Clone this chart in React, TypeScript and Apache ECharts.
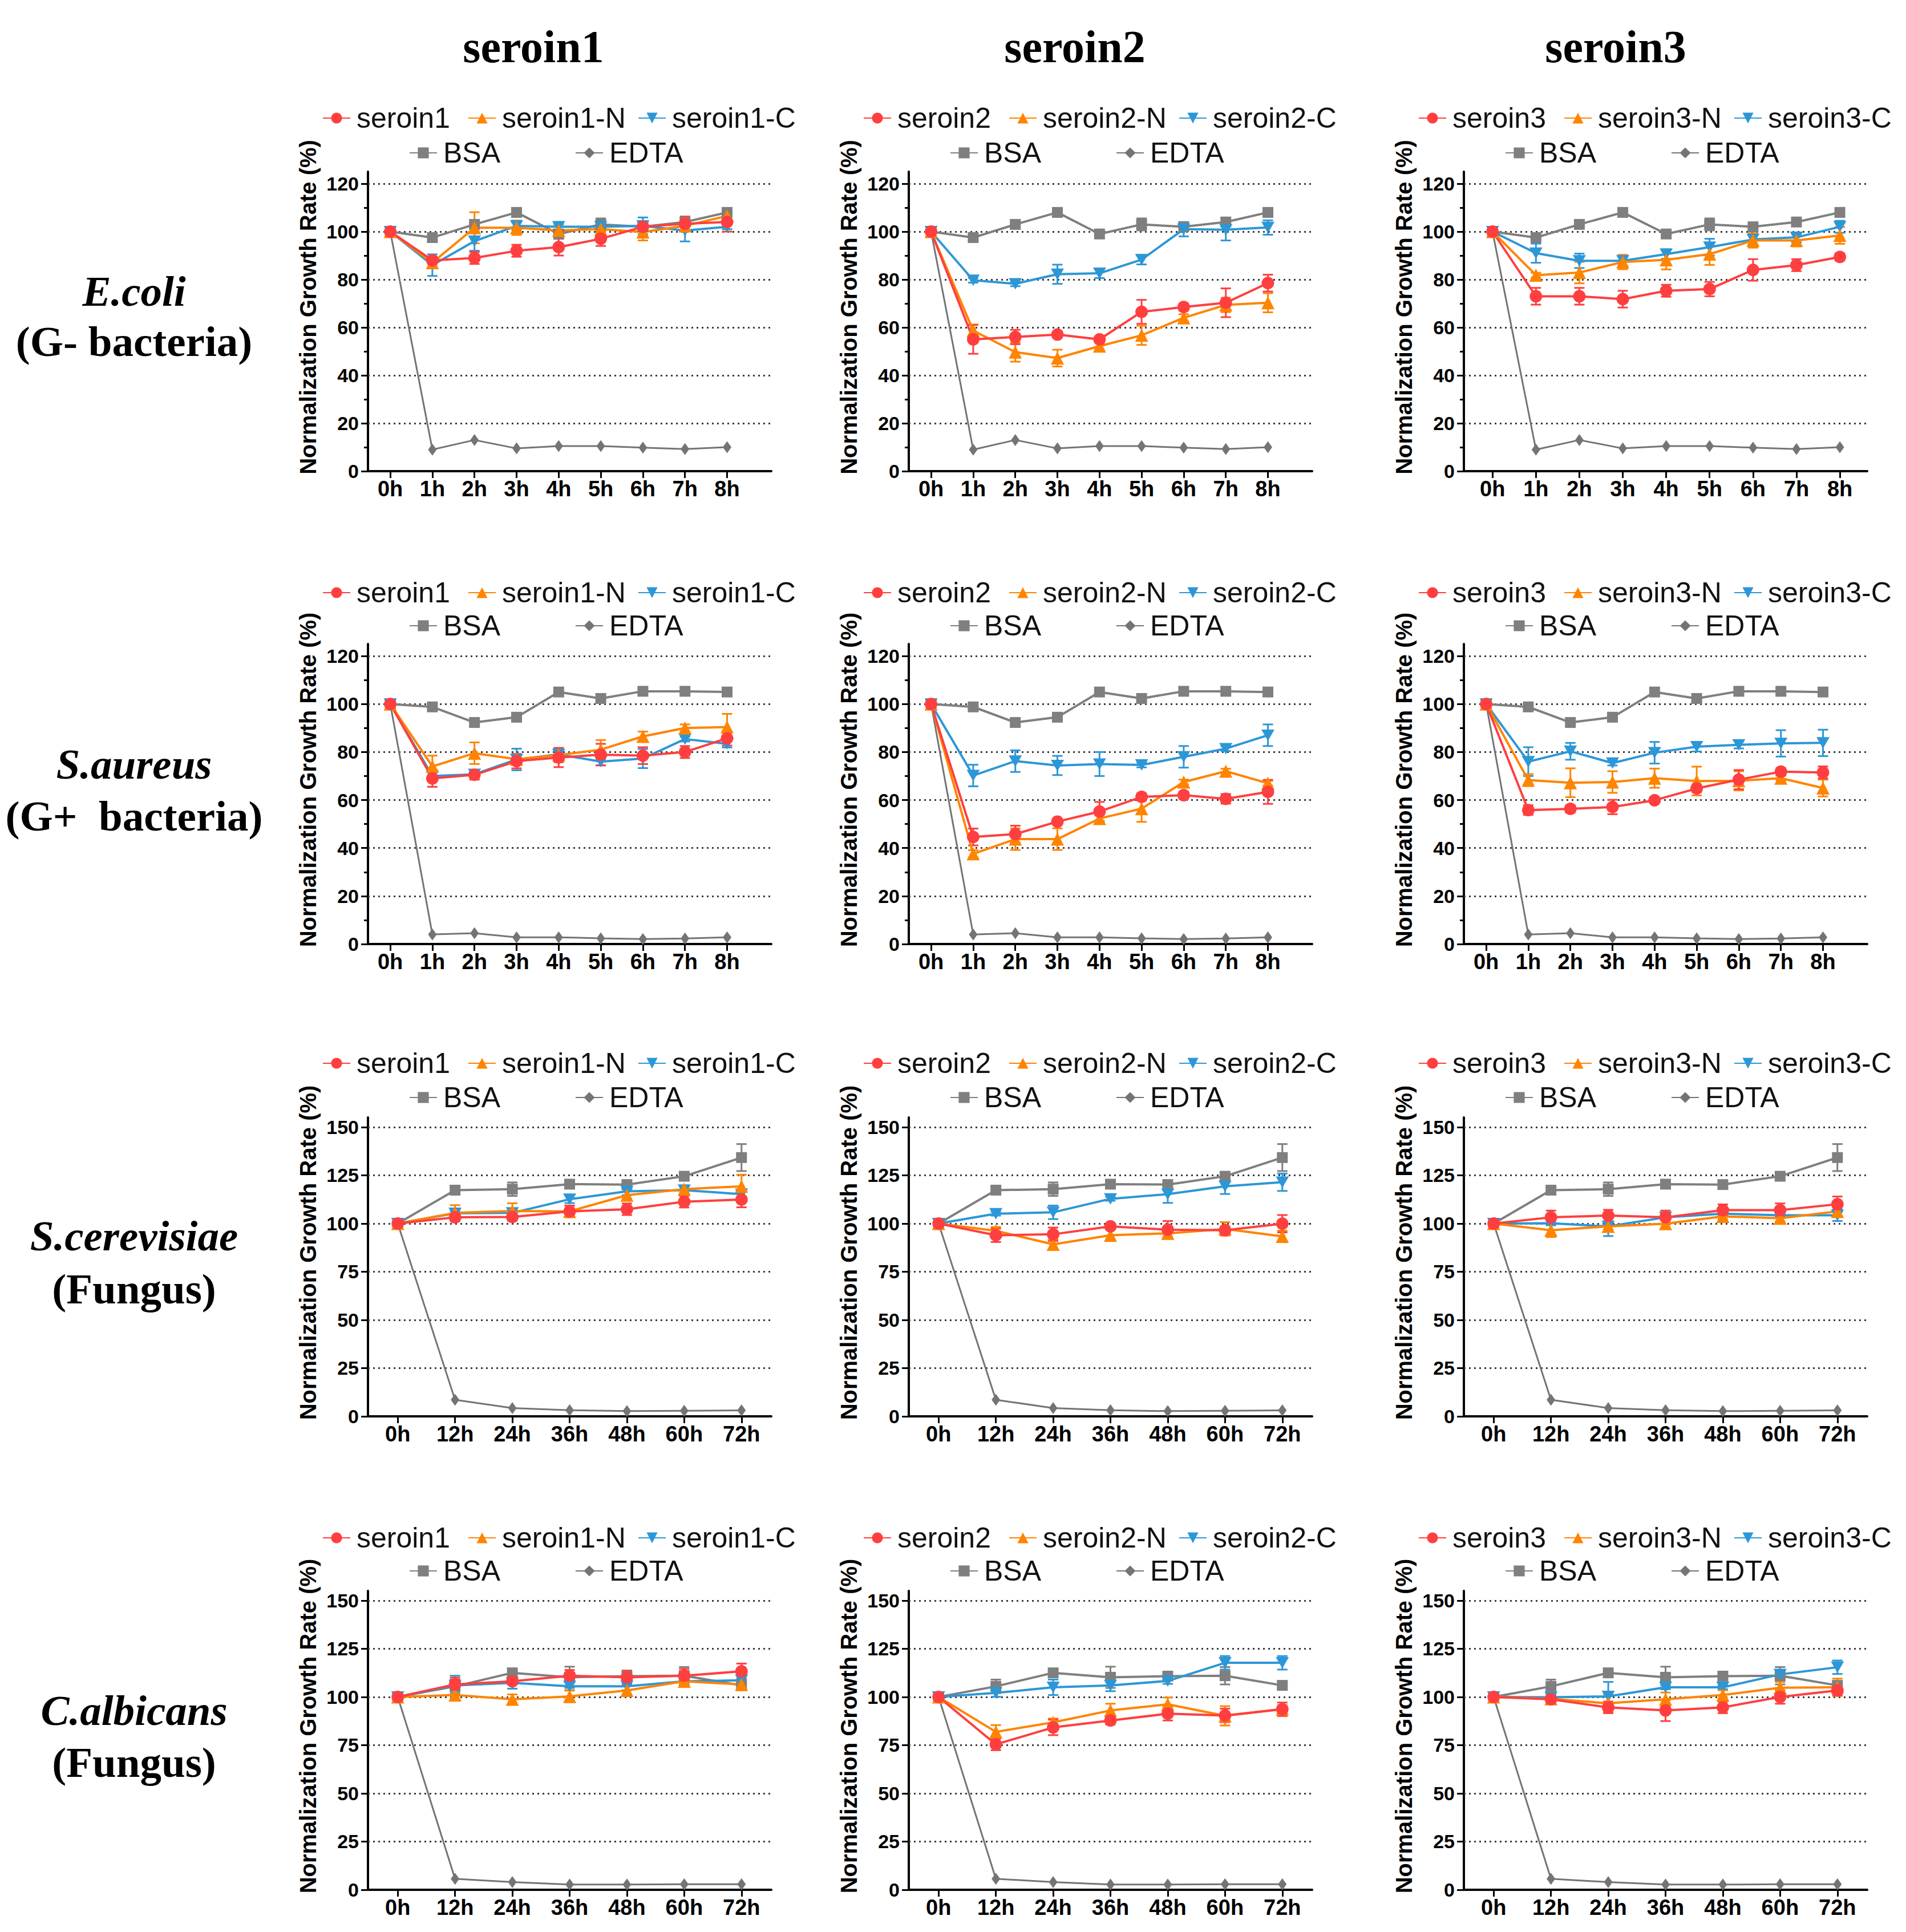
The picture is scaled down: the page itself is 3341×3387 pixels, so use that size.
import React, { useEffect, useRef } from "react";
import * as echarts from "echarts";

// ---------- categories / ticks ----------
const HOUR_LABELS = ["0h", "1h", "2h", "3h", "4h", "5h", "6h", "7h", "8h"];
const DAY_LABELS = ["0h", "12h", "24h", "36h", "48h", "60h", "72h"];
const BAC_TICKS = [0, 20, 40, 60, 80, 100, 120];
const BAC_MINOR = [10, 30, 50, 70, 90, 110];
const FUN_TICKS = [0, 25, 50, 75, 100, 125, 150];
const FUN_MINOR: number[] = [];
const COLUMN_TITLES = ["seroin1", "seroin2", "seroin3"];
const ROW_SPECIES = ["E.coli", "S.aureus", "S.cerevisiae", "C.albicans"];
const ROW_GROUPS = ["(G- bacteria)", "(G+  bacteria)", "(Fungus)", "(Fungus)"];
const Y_NAME = "Normalization Growth Rate (%)";

// ---------- controls (per row) ----------
const ecoliBSA = [100, 97.5, 103, 108, 99, 103, 102, 104, 108];
const ecoliBSAErr = [0, 0, 0, 0, 0, 2.5, 0, 0, 0];
const ecoliEDTA = [100, 9, 13, 9.5, 10.5, 10.5, 9.8, 9.2, 10];
const aureusBSA = [100, 98.8, 92.3, 94.5, 105, 102.3, 105.3, 105.3, 105];
const aureusBSAErr = [0, 0, 0, 0, 0, 0, 0, 0, 0];
const aureusEDTA = [100, 4, 4.5, 2.8, 2.8, 2.4, 2.1, 2.3, 2.8];
const cerevBSA = [100, 117.3, 117.8, 120.4, 120.2, 124.5, 134.2];
const cerevBSAErr = [0, 0, 3.5, 0, 0, 0, 7];
const cerevEDTA = [100, 8.6, 4.3, 3.2, 2.7, 2.9, 3.1];
const albicBSA = [100, 105.5, 112.5, 110.2, 110.8, 111, 106];
const albicBSAErr = [0, 3.5, 0, 5.5, 0, 4.5, 2];
const albicEDTA = [100, 5.7, 4, 2.7, 2.7, 2.9, 2.9];

// ---------- E.coli ----------
const ecoliS1 = [100, 88, 89, 92, 93.5, 97, 102, 103.3, 104];
const ecoliS1Err = [0, 1.5, 2.5, 2.5, 3.5, 3, 2, 3, 4];
const ecoliS1N = [100, 87, 101.6, 101.6, 100.5, 101, 99.8, 102.4, 106.5];
const ecoliS1NErr = [0, 2, 6.5, 3, 2.5, 2, 3.5, 2, 1.5];
const ecoliS1C = [100, 86, 96, 102.4, 102, 102, 102.4, 100.4, 102];
const ecoliS1CErr = [0, 4.5, 4, 1.5, 2, 1, 3.5, 4.5, 1];

const ecoliS2 = [100, 55, 56, 57, 55, 66.5, 68.5, 70.3, 78.5];
const ecoliS2Err = [0, 6, 3, 1, 1, 5, 1.5, 6, 3.5];
const ecoliS2N = [100, 58.7, 49.7, 47.2, 52.2, 56.7, 64, 69.4, 70.3];
const ecoliS2NErr = [0, 2.5, 4, 3.5, 1.5, 4, 1.5, 3, 4];
const ecoliS2C = [100, 79.7, 78.2, 82.2, 82.6, 88.3, 101, 100.8, 101.7];
const ecoliS2CErr = [0, 1, 1, 4, 2, 2, 3, 4.5, 3];

const ecoliS3 = [100, 73, 73, 71.8, 75.3, 76, 84, 86, 89.4];
const ecoliS3Err = [0, 3.5, 3.5, 3.5, 2.5, 3, 4.5, 2.5, 1.5];
const ecoliS3N = [100, 81.8, 82.9, 87.3, 88.2, 90.6, 96.3, 96.3, 98.4];
const ecoliS3NErr = [0, 1, 4.5, 3, 4, 4.5, 3, 2.5, 3.5];
const ecoliS3C = [100, 91, 87.8, 87.8, 90.6, 93.5, 96.7, 97.6, 102];
const ecoliS3CErr = [0, 4, 3, 2, 2, 3.5, 2, 2, 2.5];

// ---------- S.aureus ----------
const aureusS1 = [100, 69, 70.5, 76.2, 77.7, 78.9, 78.5, 80, 85.7];
const aureusS1Err = [0, 3.5, 2, 3, 4, 4.5, 3.5, 2.5, 3];
const aureusS1N = [100, 74, 79.5, 77, 78.7, 81, 86.5, 90, 90.4];
const aureusS1NErr = [0, 4.5, 4.5, 1.5, 3, 4, 2, 1.5, 5.5];
const aureusS1C = [100, 70, 70.7, 76.9, 79, 76, 77.3, 85.4, 83.4];
const aureusS1CErr = [0, 2, 1.5, 4.5, 2, 1.5, 4, 1, 1.5];

const aureusS2 = [100, 44.6, 45.8, 51, 55.2, 61.3, 62, 60.5, 63.4];
const aureusS2Err = [0, 3.5, 3.5, 1, 4, 1.5, 1.5, 2, 5];
const aureusS2N = [100, 37.6, 43.7, 43.7, 52.3, 56.4, 67.5, 72, 67];
const aureusS2NErr = [0, 1.5, 4.5, 4.5, 1.5, 5.5, 1, 1, 1];
const aureusS2C = [100, 70.2, 76.2, 74.4, 75, 74.6, 78, 81.4, 87];
const aureusS2CErr = [0, 4.5, 4.5, 4, 5, 1, 4.5, 1, 4.5];

const aureusS3 = [100, 55.8, 56.3, 57.1, 59.9, 64.8, 68.5, 71.8, 71.5];
const aureusS3Err = [0, 2, 1.5, 3, 0.5, 1.5, 4, 1.5, 2.5];
const aureusS3N = [100, 68.3, 67.2, 67.5, 69.1, 67.9, 68, 69.1, 65];
const aureusS3NErr = [0, 2.5, 6, 4.5, 4, 6, 4, 1, 3.5];
const aureusS3C = [100, 76, 80.3, 75.4, 79.7, 82.2, 83, 83.6, 83.8];
const aureusS3CErr = [0, 6, 3.5, 1, 4.5, 2, 1.5, 5.5, 5.5];

// ---------- S.cerevisiae ----------
const cerevS1 = [100, 103.2, 103.4, 106.3, 107.4, 111.3, 112.4];
const cerevS1Err = [0, 2, 2, 3, 3, 3, 4];
const cerevS1N = [100, 105.5, 106.5, 106.3, 114.7, 117.8, 119.3];
const cerevS1NErr = [0, 4, 4, 3, 2, 2, 6];
const cerevS1C = [100, 105.3, 105.5, 112.6, 116.7, 117.3, 115.2];
const cerevS1CErr = [0, 1, 1, 2, 2, 2, 1.5];

const cerevS2 = [100, 93.9, 94.4, 98.5, 96.8, 96.5, 99.9];
const cerevS2Err = [0, 3.5, 3.5, 1, 4.5, 2, 4.5];
const cerevS2N = [100, 96.2, 89.2, 93.9, 94.9, 97.2, 93.3];
const cerevS2NErr = [0, 2, 2.5, 3, 1.5, 3.5, 3];
const cerevS2C = [100, 105.1, 105.8, 112.8, 115.2, 119.3, 121.4];
const cerevS2CErr = [0, 1, 3.5, 1, 4.5, 4, 4.5];

const cerevS3 = [100, 103.2, 104.1, 103.2, 106.9, 106.9, 110];
const cerevS3Err = [0, 3.5, 3, 3.5, 3, 3.5, 4];
const cerevS3N = [100, 96.5, 98.5, 99.9, 103.7, 102.7, 106.3];
const cerevS3NErr = [0, 3.5, 1.5, 2, 1.5, 1.5, 3];
const cerevS3C = [100, 100.1, 98.5, 103.2, 105.1, 104.3, 104.3];
const cerevS3CErr = [0, 1, 5, 1, 1, 1, 3];

// ---------- C.albicans ----------
const albicS1 = [100, 106.5, 108.1, 111, 110.2, 111, 113.3];
const albicS1Err = [0, 3.5, 1.5, 3, 3.5, 3.5, 4];
const albicS1N = [100, 101, 98.8, 100.3, 103.4, 108.1, 106.5];
const albicS1NErr = [0, 3, 2.5, 3, 3, 1.5, 3];
const albicS1C = [100, 106, 107.3, 105.5, 105.5, 108.1, 108.6];
const albicS1CErr = [0, 5, 3, 2, 2, 2, 5];

const albicS2 = [100, 75.4, 84.2, 87.8, 91.3, 90.4, 93.6];
const albicS2Err = [0, 3, 4, 2, 3.5, 3.5, 3.5];
const albicS2N = [100, 81.9, 86.8, 93, 96.2, 90.2, 93.8];
const albicS2NErr = [0, 3.5, 2, 3.5, 3.5, 5, 2];
const albicS2C = [100, 102.1, 105, 106, 108.3, 117.7, 117.7];
const albicS2CErr = [0, 2, 4, 3, 1.5, 3.5, 3.5];

const albicS3 = [100, 98.8, 94.6, 93, 94.6, 100, 103.4];
const albicS3Err = [0, 2.5, 3, 5.5, 3, 3.5, 2.5];
const albicS3N = [100, 99, 96.7, 98.8, 101, 104.8, 105];
const albicS3NErr = [0, 2.5, 4.5, 3.5, 2.5, 3, 4.5];
const albicS3C = [100, 99.8, 100.3, 105, 105, 111.7, 115.4];
const albicS3CErr = [0, 1, 7.5, 1, 1, 1, 3.5];

// ---------- tables built from the arrays ----------
const ROWS = [
  { cats: HOUR_LABELS, xMin: -0.53, xMax: 9.05, yMax: 125, ticks: BAC_TICKS, minor: BAC_MINOR, bsa: ecoliBSA, bsaErr: ecoliBSAErr, edta: ecoliEDTA },
  { cats: HOUR_LABELS, xMin: -0.53, xMax: 9.05, yMax: 125, ticks: BAC_TICKS, minor: BAC_MINOR, bsa: aureusBSA, bsaErr: aureusBSAErr, edta: aureusEDTA },
  { cats: DAY_LABELS, xMin: -0.52, xMax: 6.52, yMax: 155, ticks: FUN_TICKS, minor: FUN_MINOR, bsa: cerevBSA, bsaErr: cerevBSAErr, edta: cerevEDTA },
  { cats: DAY_LABELS, xMin: -0.52, xMax: 6.52, yMax: 155, ticks: FUN_TICKS, minor: FUN_MINOR, bsa: albicBSA, bsaErr: albicBSAErr, edta: albicEDTA },
];

const PANELS: any[] = [
  { row: 0, col: 0, s: ecoliS1, sE: ecoliS1Err, n: ecoliS1N, nE: ecoliS1NErr, c: ecoliS1C, cE: ecoliS1CErr },
  { row: 0, col: 1, s: ecoliS2, sE: ecoliS2Err, n: ecoliS2N, nE: ecoliS2NErr, c: ecoliS2C, cE: ecoliS2CErr },
  { row: 0, col: 2, s: ecoliS3, sE: ecoliS3Err, n: ecoliS3N, nE: ecoliS3NErr, c: ecoliS3C, cE: ecoliS3CErr, xMin: -0.66, xMax: 8.63 },
  { row: 1, col: 0, s: aureusS1, sE: aureusS1Err, n: aureusS1N, nE: aureusS1NErr, c: aureusS1C, cE: aureusS1CErr },
  { row: 1, col: 1, s: aureusS2, sE: aureusS2Err, n: aureusS2N, nE: aureusS2NErr, c: aureusS2C, cE: aureusS2CErr },
  { row: 1, col: 2, s: aureusS3, sE: aureusS3Err, n: aureusS3N, nE: aureusS3NErr, c: aureusS3C, cE: aureusS3CErr },
  { row: 2, col: 0, s: cerevS1, sE: cerevS1Err, n: cerevS1N, nE: cerevS1NErr, c: cerevS1C, cE: cerevS1CErr },
  { row: 2, col: 1, s: cerevS2, sE: cerevS2Err, n: cerevS2N, nE: cerevS2NErr, c: cerevS2C, cE: cerevS2CErr },
  { row: 2, col: 2, s: cerevS3, sE: cerevS3Err, n: cerevS3N, nE: cerevS3NErr, c: cerevS3C, cE: cerevS3CErr },
  { row: 3, col: 0, s: albicS1, sE: albicS1Err, n: albicS1N, nE: albicS1NErr, c: albicS1C, cE: albicS1CErr },
  { row: 3, col: 1, s: albicS2, sE: albicS2Err, n: albicS2N, nE: albicS2NErr, c: albicS2C, cE: albicS2CErr },
  { row: 3, col: 2, s: albicS3, sE: albicS3Err, n: albicS3N, nE: albicS3NErr, c: albicS3C, cE: albicS3CErr },
];

// ---------- layout / style ----------
const W = 3341;
const H = 3387;
const COL_LEFT = [645, 1593, 2566];
const PLOT_W = 707;
const ROW_TOP = [301, 1129, 1959, 2789];
const ROW_H = [525, 526, 524, 524];
const LEG1_Y = [194, 1026, 1851, 2683];
const LEG2_Y = [255, 1084, 1911, 2741];
const COL_TITLE_X = [935, 1884, 2832];
const COL_TITLE_Y = 82;
const ROW_LABEL_X = 235;
const ROW_LABEL_Y = [[510, 598], [1339, 1430], [2166, 2259], [2998, 3089]];

const RED = "#FF3F3F";
const ORANGE = "#FF8400";
const BLUE = "#2C97D7";
const GRAY = "#7F7F7F";
const EDTA_GRAY = "#747474";
const DOWN_TRI = "path://M0,0 L20,0 L10,18 Z";
const SANS = "Liberation Sans";
const SERIF = "Liberation Serif";

function buildOption() {
  const grid: any[] = [];
  const xAxis: any[] = [];
  const yAxis: any[] = [];
  const series: any[] = [];
  const legend: any[] = [];
  const graphic: any[] = [];

  PANELS.forEach((p, gi) => {
    const row = ROWS[p.row];
    const left = COL_LEFT[p.col];
    const top = ROW_TOP[p.row];
    const h = ROW_H[p.row];
    grid.push({ left, top, width: PLOT_W, height: h, containLabel: false, outerBoundsMode: "none" });
    const idx = row.cats.map((_, i) => i);
    const cats = row.cats;
    xAxis.push({
      type: "value",
      gridIndex: gi,
      min: p.xMin ?? row.xMin,
      max: p.xMax ?? row.xMax,
      axisLine: { show: true, onZero: false, lineStyle: { color: "#000", width: 4 } },
      axisTick: { show: true, customValues: idx, length: 12, inside: false, lineStyle: { color: "#000", width: 3 } },
      axisLabel: {
        show: true,
        customValues: idx,
        formatter: (v: number) => cats[Math.round(v)] ?? "",
        fontSize: 38,
        fontWeight: "bold",
        fontFamily: SANS,
        color: "#000",
        margin: 12,
      },
      splitLine: { show: false },
    });
    const yMain = yAxis.length;
    yAxis.push({
      type: "value",
      gridIndex: gi,
      min: 0,
      max: row.yMax,
      position: "left",
      axisLine: { show: true, onZero: false, lineStyle: { color: "#000", width: 4 } },
      axisTick: { show: true, customValues: row.ticks, length: 12, inside: false, lineStyle: { color: "#000", width: 3 } },
      axisLabel: {
        show: true,
        customValues: row.ticks,
        fontSize: 34,
        fontWeight: "bold",
        fontFamily: SANS,
        color: "#000",
        margin: 16,
      },
      splitLine: { show: false },
    });
    if (row.minor.length) {
      yAxis.push({
        type: "value",
        gridIndex: gi,
        min: 0,
        max: row.yMax,
        position: "left",
        offset: 0,
        axisLine: { show: false, onZero: false },
        axisTick: { show: true, customValues: row.minor, length: 7, inside: false, lineStyle: { color: "#000", width: 3 } },
        axisLabel: { show: false },
        splitLine: { show: false },
      });
    }

    const k = p.col + 1;
    const defs = [
      { name: "BSA", data: row.bsa, err: row.bsaErr, color: GRAY, symbol: "rect", size: 19, width: 4 },
      { name: "EDTA", data: row.edta, err: row.edta.map(() => 0), color: EDTA_GRAY, symbol: "diamond", size: [15, 21], width: 3 },
      { name: `seroin${k}-C`, data: p.c, err: p.cE, color: BLUE, symbol: DOWN_TRI, size: [23, 20], width: 4 },
      { name: `seroin${k}-N`, data: p.n, err: p.nE, color: ORANGE, symbol: "triangle", size: 23, width: 4 },
      { name: `seroin${k}`, data: p.s, err: p.sE, color: RED, symbol: "circle", size: 22, width: 4 },
    ];

    defs.forEach((d, di) => {
      const errData = d.data
        .map((v: number, i: number) => [i, v - d.err[i], v + d.err[i], d.err[i]])
        .filter((e: number[]) => e[3] > 0);
      if (errData.length) {
        const col = d.color;
        series.push({
          type: "custom",
          name: `${d.name} SD`,
          xAxisIndex: gi,
          yAxisIndex: yMain,
          coordinateSystem: "cartesian2d",
          z: 3,
          silent: true,
          data: errData,
          encode: { x: 0, y: [1, 2] },
          renderItem: (params: any, api: any) => {
            const x = api.value(0);
            const lo = api.coord([x, api.value(1)]);
            const hi = api.coord([x, api.value(2)]);
            const hw = 9;
            const st = { stroke: col, lineWidth: 3 };
            return {
              type: "group",
              children: [
                { type: "line", shape: { x1: lo[0], y1: lo[1], x2: hi[0], y2: hi[1] }, style: st },
                { type: "line", shape: { x1: lo[0] - hw, y1: lo[1], x2: lo[0] + hw, y2: lo[1] }, style: st },
                { type: "line", shape: { x1: hi[0] - hw, y1: hi[1], x2: hi[0] + hw, y2: hi[1] }, style: st },
              ],
            };
          },
        });
      }
      const s: any = {
        type: "line",
        name: d.name,
        xAxisIndex: gi,
        yAxisIndex: yMain,
        data: d.data.map((v: number, i: number) => [i, v]),
        symbol: d.symbol,
        symbolSize: d.size,
        showAllSymbol: true,
        z: 4,
        lineStyle: { color: d.color, width: d.width },
        itemStyle: { color: d.color, borderWidth: 0 },
        emphasis: { disabled: true },
      };
      if (di === 0) {
        s.markLine = {
          silent: true,
          symbol: ["none", "none"],
          label: { show: false },
          lineStyle: { color: "#3a3a3a", width: 3, type: [3, 6] },
          emphasis: { disabled: true },
          data: row.ticks.filter((t) => t > 0).map((t) => ({ yAxis: t })),
          z: 1,
        };
      }
      series.push(s);
    });

    // legends: one item each, placed like the reference
    const legItems = [
      { name: `seroin${k}`, x: left - 80, y: LEG1_Y[p.row] },
      { name: `seroin${k}-N`, x: left + 175, y: LEG1_Y[p.row] },
      { name: `seroin${k}-C`, x: left + 473, y: LEG1_Y[p.row] },
      { name: "BSA", x: left + 72, y: LEG2_Y[p.row] },
      { name: "EDTA", x: left + 363, y: LEG2_Y[p.row] },
    ];
    legItems.forEach((li) => {
      legend.push({
        data: [li.name],
        left: li.x,
        top: li.y - 12,
        orient: "horizontal",
        padding: 0,
        itemGap: 0,
        itemWidth: 48,
        itemHeight: 24,
        selectedMode: false,
        textStyle: { fontSize: 50, color: "#111", fontFamily: SANS, padding: [0, 0, 0, 6] },
      });
    });

    // y axis name
    graphic.push({
      type: "text",
      x: left - 105,
      y: top + h / 2 - 25,
      rotation: Math.PI / 2,
      silent: true,
      style: {
        text: Y_NAME,
        fill: "#000",
        fontSize: 40,
        fontWeight: "bold",
        fontFamily: SANS,
        align: "center",
        verticalAlign: "middle",
      },
    });
  });

  COLUMN_TITLES.forEach((t, i) => {
    graphic.push({
      type: "text",
      x: COL_TITLE_X[i],
      y: COL_TITLE_Y,
      silent: true,
      style: { text: t, fill: "#000", fontSize: 80, fontWeight: "bold", fontFamily: SERIF, align: "center", verticalAlign: "middle" },
    });
  });
  ROW_SPECIES.forEach((t, i) => {
    graphic.push({
      type: "text",
      x: ROW_LABEL_X,
      y: ROW_LABEL_Y[i][0],
      silent: true,
      style: { text: t, fill: "#000", fontSize: 75, fontWeight: "bold", fontStyle: "italic", fontFamily: SERIF, align: "center", verticalAlign: "middle" },
    });
    graphic.push({
      type: "text",
      x: ROW_LABEL_X,
      y: ROW_LABEL_Y[i][1],
      silent: true,
      style: { text: ROW_GROUPS[i], fill: "#000", fontSize: 75, fontWeight: "bold", fontFamily: SERIF, align: "center", verticalAlign: "middle" },
    });
  });

  return {
    animation: false,
    backgroundColor: "#fff",
    textStyle: { fontFamily: SANS },
    grid,
    xAxis,
    yAxis,
    legend,
    series,
    graphic,
  };
}

export default function App() {
  const ref = useRef<HTMLDivElement | null>(null);
  useEffect(() => {
    document.body.style.margin = "0";
    if (!ref.current) return;
    const chart = echarts.init(ref.current, null, { renderer: "svg" });
    chart.setOption(buildOption() as any);
    return () => chart.dispose();
  }, []);
  return <div ref={ref} style={{ width: W, height: H, background: "#fff" }} />;
}
